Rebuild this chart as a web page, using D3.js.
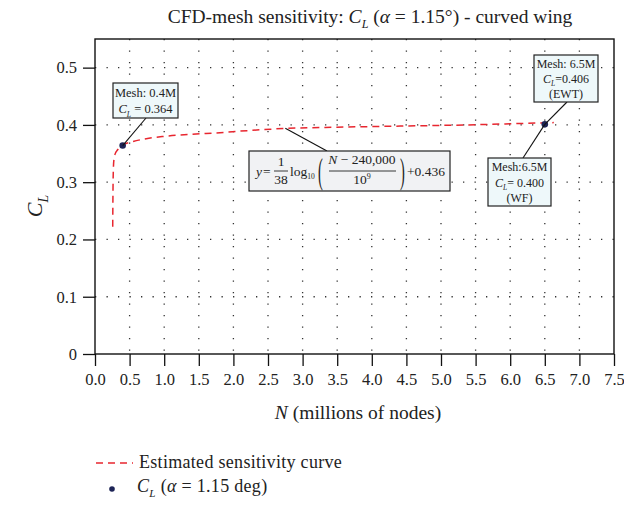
<!DOCTYPE html>
<html>
<head>
<meta charset="utf-8">
<script src="https://cdn.jsdelivr.net/npm/d3@7"></script>
<style>
  body { margin: 0; background: #fff; }
  text { font-family: "Liberation Serif", "DejaVu Serif", serif; fill: #222; }
</style>
</head>
<body>
<script>
// data
let curveN  = [0.256, 0.260, 0.266, 0.274, 0.29, 0.33, 0.40, 0.55, 0.74, 1.0, 1.46, 1.75, 2.2, 2.78, 3.5, 4.42, 5.39, 6.0, 6.63];
let curveCL = [0.222, 0.285, 0.325, 0.340, 0.349, 0.357, 0.365, 0.371, 0.376, 0.380, 0.384, 0.386, 0.390, 0.394, 0.396, 0.398, 0.400, 0.402, 0.404];
let pointN  = [0.4, 6.5];
let pointCL = [0.364, 0.401];
let xTicks = [0, 0.5, 1, 1.5, 2, 2.5, 3, 3.5, 4, 4.5, 5, 5.5, 6, 6.5, 7, 7.5];
let yTicks = [0, 0.1, 0.2, 0.3, 0.4, 0.5];

let svgWidth = 624, svgHeight = 505;
let margin = {top: 39, right: 10, bottom: 151, left: 95};
let width = 614 - margin.left;
let height = 354 - margin.top;

let svg = d3.select("body").append("svg")
    .attr("width", svgWidth)
    .attr("height", svgHeight);

let g = svg.append("g")
    .attr("transform", `translate(${margin.left}, ${margin.top})`);

let xScale = d3.scaleLinear().domain([0, 7.5]).range([0, width]);
let yScale = d3.scaleLinear().domain([0, 0.55]).range([height, 0]);

// grid
g.selectAll(".vgrid").data(xTicks.slice(1, -1)).enter().append("line")
    .attr("x1", d => xScale(d)).attr("x2", d => xScale(d))
    .attr("y1", 0).attr("y2", height)
    .attr("stroke", "#333").attr("stroke-width", 1.3)
    .attr("stroke-dasharray", "1.3,10.2");
g.selectAll(".hgrid").data(yTicks.slice(1)).enter().append("line")
    .attr("x1", 0).attr("x2", width)
    .attr("y1", d => yScale(d)).attr("y2", d => yScale(d))
    .attr("stroke", "#333").attr("stroke-width", 1.3)
    .attr("stroke-dasharray", "1.3,10.2");

// axes
let bottomAxis = d3.axisBottom(xScale).tickValues(xTicks).tickSize(12).tickPadding(7)
    .tickFormat(d3.format(".1f"));
let leftAxis = d3.axisLeft(yScale).tickValues(yTicks).tickSize(12).tickPadding(6)
    .tickFormat(d => d === 0 ? "0" : d3.format(".1f")(d));

let xa = g.append("g").attr("transform", `translate(0, ${height})`).call(bottomAxis);
let ya = g.append("g").call(leftAxis);
[xa, ya].forEach(a => {
  a.select(".domain").remove();
  a.selectAll("line").attr("stroke", "#111").attr("stroke-width", 1.3);
  a.selectAll("text").style("font-family", "Liberation Serif").style("font-size", "16.5px").attr("fill", "#222");
});

// frame
g.append("rect").attr("width", width).attr("height", height)
    .attr("fill", "none").attr("stroke", "#111").attr("stroke-width", 1.4);

// curve
let line = d3.line().x(d => xScale(d[0])).y(d => yScale(d[1])).curve(d3.curveMonotoneX);
g.append("path").datum(d3.zip(curveN, curveCL))
    .attr("d", line).attr("fill", "none")
    .attr("stroke", "#e8262f").attr("stroke-width", 1.5)
    .attr("stroke-dasharray", "7,5");

// annotation leaders
let leaders = [
  [pointN[0], pointCL[0], 146, 118],
  [2.75, 0.394, 327, 151],
  [pointN[1], pointCL[1], 567, 102],
  [pointN[1], pointCL[1], 523, 158]
];
svg.selectAll(".leader").data(leaders).enter().append("line")
    .attr("x1", d => margin.left + xScale(d[0])).attr("y1", d => margin.top + yScale(d[1]))
    .attr("x2", d => d[2]).attr("y2", d => d[3])
    .attr("stroke", "#111").attr("stroke-width", 1.1);

// points
g.selectAll(".pt").data(d3.zip(pointN, pointCL)).enter().append("circle")
    .attr("cx", d => xScale(d[0])).attr("cy", d => yScale(d[1]))
    .attr("r", 3.3).attr("fill", "#1d2456");

// helper: C_L
function cl(t, size) {
  t.append("tspan").style("font-style", "italic").text("C");
  t.append("tspan").style("font-style", "italic").style("font-size", (size * 0.62) + "px")
      .attr("dy", size * 0.28).text("L");
  return t;
}

// boxes
function box(x, y, w, h, fill) {
  svg.append("rect").attr("x", x).attr("y", y).attr("width", w).attr("height", h)
      .attr("fill", fill).attr("stroke", "#222").attr("stroke-width", 1.2);
}
box(113, 83, 65, 35, "#eef8fa");
svg.append("text").attr("x", 145.5).attr("y", 97).attr("text-anchor", "middle")
    .style("font-size", "12.5px").text("Mesh: 0.4M");
let t1 = svg.append("text").attr("x", 145.5).attr("y", 113).attr("text-anchor", "middle").style("font-size", "12.5px");
cl(t1, 12.5); t1.append("tspan").attr("dy", -3.5).text(" = 0.364");

box(534, 55, 64, 47, "#eef8fa");
svg.append("text").attr("x", 566).attr("y", 68).attr("text-anchor", "middle").style("font-size", "12px").text("Mesh: 6.5M");
let t2 = svg.append("text").attr("x", 566).attr("y", 83).attr("text-anchor", "middle").style("font-size", "12px");
cl(t2, 12); t2.append("tspan").attr("dy", -3.4).text("=0.406");
svg.append("text").attr("x", 566).attr("y", 98).attr("text-anchor", "middle").style("font-size", "12px").text("(EWT)");

box(488, 158, 63, 48, "#eef8fa");
svg.append("text").attr("x", 519.5).attr("y", 171).attr("text-anchor", "middle").style("font-size", "12px").text("Mesh:6.5M");
let t3 = svg.append("text").attr("x", 519.5).attr("y", 187).attr("text-anchor", "middle").style("font-size", "12px");
cl(t3, 12); t3.append("tspan").attr("dy", -3.4).text("= 0.400");
svg.append("text").attr("x", 519.5).attr("y", 202).attr("text-anchor", "middle").style("font-size", "12px").text("(WF)");

// equation box
box(249, 151, 201, 40, "#f1f2f4");
let eq = svg.append("g").style("font-size", "13.5px");
eq.append("text").attr("x", 256).attr("y", 176).style("font-style", "italic").text("y");
eq.append("text").attr("x", 263).attr("y", 176).text("=");
eq.append("text").attr("x", 281).attr("y", 166).attr("text-anchor", "middle").text("1");
eq.append("line").attr("x1", 274).attr("x2", 288).attr("y1", 171).attr("y2", 171).attr("stroke", "#222").attr("stroke-width", 0.9);
eq.append("text").attr("x", 281).attr("y", 184).attr("text-anchor", "middle").text("38");
let lg = eq.append("text").attr("x", 290).attr("y", 176).text("log");
lg.append("tspan").style("font-size", "7.5px").attr("dy", 2.5).text("10");
eq.append("text").attr("x", 318).attr("y", 183).style("font-size", "36px")
    .attr("transform", "translate(318,0) scale(0.4,1) translate(-318,0)").text("(");
eq.append("text").attr("x", 362).attr("y", 164).attr("text-anchor", "middle").html('<tspan font-style="italic">N</tspan> − 240,000');
eq.append("line").attr("x1", 329).attr("x2", 396).attr("y1", 171).attr("y2", 171).attr("stroke", "#222").attr("stroke-width", 0.9);
let ten = eq.append("text").attr("x", 362).attr("y", 184).attr("text-anchor", "middle").text("10");
ten.append("tspan").style("font-size", "8px").attr("dy", -5.5).text("9");
eq.append("text").attr("x", 400).attr("y", 183).style("font-size", "36px")
    .attr("transform", "translate(400,0) scale(0.4,1) translate(-400,0)").text(")");
eq.append("text").attr("x", 407).attr("y", 176).text("+0.436");

// title
let title = svg.append("text").attr("x", 370).attr("y", 23).attr("text-anchor", "middle").style("font-size", "19.5px");
title.append("tspan").text("CFD-mesh sensitivity: ");
cl(title, 19.5);
title.append("tspan").attr("dy", -5.5).text(" (");
title.append("tspan").style("font-style", "italic").text("α");
title.append("tspan").text(" = 1.15°) - curved wing");

// axis titles
let xl = svg.append("text").attr("x", 358).attr("y", 419).attr("text-anchor", "middle").style("font-size", "19.5px");
xl.append("tspan").style("font-style", "italic").text("N");
xl.append("tspan").text(" (millions of nodes)");

let yl = svg.append("text").attr("transform", "translate(42, 206) rotate(-90)").attr("text-anchor", "middle").style("font-size", "22px");
cl(yl, 22);

// legend
svg.append("line").attr("x1", 96).attr("x2", 133).attr("y1", 463).attr("y2", 463)
    .attr("stroke", "#e8262f").attr("stroke-width", 1.5).attr("stroke-dasharray", "7,5");
svg.append("text").attr("x", 139).attr("y", 468).style("font-size", "18px").style("letter-spacing", "0.3px")
    .text("Estimated sensitivity curve");
svg.append("circle").attr("cx", 112).attr("cy", 489).attr("r", 2.8).attr("fill", "#1d2456");
let l2 = svg.append("text").attr("x", 137).attr("y", 492).style("font-size", "18px").style("letter-spacing", "0.3px");
cl(l2, 18);
l2.append("tspan").attr("dy", -5).text(" (");
l2.append("tspan").style("font-style", "italic").text("α");
l2.append("tspan").text(" = 1.15 deg)");
</script>
</body>
</html>
